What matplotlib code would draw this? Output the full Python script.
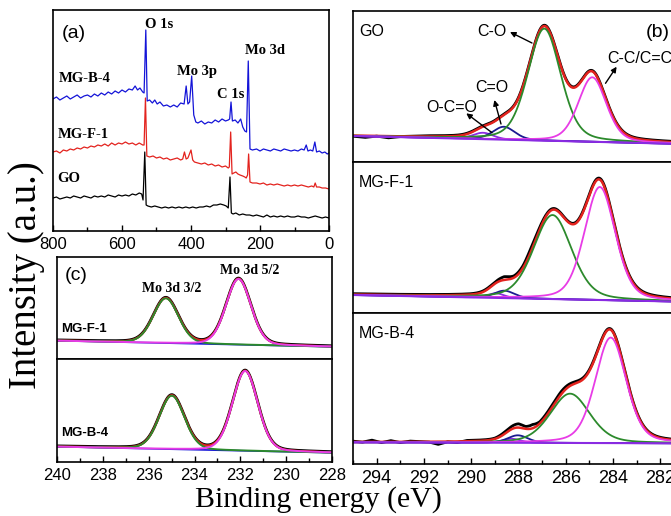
import numpy as np
import matplotlib
matplotlib.use("Agg")
import matplotlib.pyplot as plt
from matplotlib.ticker import MultipleLocator

plt.rcParams['font.family'] = ['Liberation Sans', 'DejaVu Sans']

# ---------------- (a) survey spectra ----------------
b4_ev = [800, 790, 780, 770, 760, 750, 740, 730, 720, 710, 700, 690, 680, 670, 660, 650,
         640, 630, 620, 610, 600, 590, 580, 570, 562, 555, 548, 540, 536, 531, 527,
         520, 512, 505, 498, 490, 480, 470, 460, 450, 440, 430, 420, 414, 409, 404, 398,
         392, 386, 380, 370, 360, 350, 340, 330, 320, 310, 300, 292, 288, 284, 280, 272,
         264, 256, 250, 244, 239, 234, 229, 222, 210, 200, 190, 180, 170, 160, 150, 140,
         130, 120, 110, 100, 90, 80, 72, 66, 61, 54, 47, 41, 36, 28, 20, 12, 5, 0]
b4_int = [132, 134, 131, 133, 135, 132, 134, 136, 133, 135, 136, 134, 137, 135, 138, 136,
          139, 137, 140, 138, 141, 139, 142, 141, 145, 141, 143, 139, 138, 201, 130,
          131, 128, 131, 127, 129, 125, 126, 124, 126, 124, 128, 127, 145, 127, 129, 155,
          116, 109, 108, 110, 107, 109, 108, 111, 109, 112, 110, 111, 112, 129, 110, 111,
          108, 112, 104, 100, 99, 170, 82, 81, 82, 80, 82, 81, 80, 82, 81, 80,
          82, 81, 80, 81, 80, 82, 81, 86, 80, 81, 80, 89, 79, 80, 78, 79, 77, 78]

f1_ev = [800, 790, 780, 770, 760, 750, 740, 730, 720, 710, 700, 690, 680, 670, 660, 650,
         640, 630, 620, 610, 600, 590, 580, 570, 560, 550, 540, 536, 532, 528, 520, 510,
         500, 490, 480, 470, 460, 450, 440, 430, 424, 419, 414, 409, 400, 395, 390, 380,
         370, 360, 350, 340, 330, 320, 310, 300, 292, 289, 285, 281, 276, 270, 264, 258,
         250, 244, 240, 236, 233, 229, 222, 210, 200, 190, 180, 170, 160, 150, 140, 130,
         120, 110, 100, 90, 80, 70, 60, 50, 44, 40, 36, 28, 20, 10, 0]
f1_int = [79, 80, 78, 81, 80, 82, 81, 83, 82, 84, 83, 85, 84, 86, 85, 87,
          85, 88, 86, 88, 87, 89, 87, 88, 86, 88, 86, 86, 133, 75, 74, 75,
          73, 74, 72, 73, 71, 72, 73, 71, 72, 79, 72, 73, 81, 71, 69, 68,
          67, 68, 66, 67, 65, 66, 64, 65, 63, 64, 99, 57, 58, 59, 57, 56,
          55, 54, 53, 56, 77, 49, 48, 48, 47, 48, 46, 47, 46, 47, 46, 45,
          46, 45, 46, 45, 46, 45, 44, 45, 44, 48, 44, 44, 43, 43, 42]

go_ev = [800, 790, 780, 770, 760, 750, 740, 730, 720, 710, 700, 690, 680, 670, 660, 650,
         640, 630, 620, 610, 600, 590, 580, 570, 560, 550, 543, 539, 534, 530, 525,
         515, 505, 495, 485, 475, 465, 455, 445, 435, 425, 415, 405, 395, 385, 375, 365,
         355, 345, 335, 325, 315, 305, 298, 292, 287, 283, 278, 270, 260, 250, 240, 230,
         220, 210, 200, 190, 180, 170, 160, 150, 140, 130, 120, 110, 100, 90, 80, 70,
         60, 50, 40, 30, 20, 10, 0]
go_int = [33, 34, 32, 33, 34, 33, 35, 34, 33, 35, 34, 33, 35, 34, 35, 34,
          36, 35, 34, 36, 35, 36, 35, 37, 36, 38, 37, 31, 79, 26, 25,
          24, 25, 24, 23, 24, 23, 24, 23, 24, 23, 24, 23, 24, 23, 24, 24,
          25, 24, 26, 26, 27, 26, 25, 23, 54, 18, 17, 18, 16, 17, 16, 16,
          15, 16, 15, 14, 16, 14, 15, 14, 15, 14, 15, 14, 14, 15, 14, 14,
          13, 14, 15, 14, 13, 14, 13]

# ---------------- (b) C 1s peak fits: centre, height, FWHM ----------------
c1s_labels = ["O-C=O", "C=O", "C-O", "C-C/C=C"]
go_c1s_center = [289.5, 288.62, 286.91, 284.88]
go_c1s_height = [6.4, 12.9, 112.0, 64.5]
go_c1s_fwhm = [1.0, 1.1, 1.64, 1.4]
go_c1s_base = [26, 18]
go_c1s_res_ev = [295, 294.5, 294, 293.5, 293, 292, 290, 288, 281]
go_c1s_res = [-1.5, -2.5, -1, -2.5, -1, 0, 0, 0, 0]

f1_c1s_center = [288.95, 288.6, 286.56, 284.56]
f1_c1s_height = [4.6, 7.4, 84.0, 113.0]
f1_c1s_fwhm = [0.8, 1.0, 1.9, 1.54]
f1_c1s_base = [18, 11.3]
f1_c1s_res_ev = [295, 290, 289, 288.6, 288.2, 287.8, 287.5, 287.2, 286.8, 286, 285, 281]
f1_c1s_res = [0, 0, 0.5, 2.5, 1, 1.5, 3, 2, 0.5, 0, 0.5, 0]

b4_c1s_center = [288.3, 288.03, 285.82, 284.1]
b4_c1s_height = [4.0, 7.5, 49.3, 105.5]
b4_c1s_fwhm = [0.9, 1.0, 1.97, 1.54]
b4_c1s_base = [21.7, 20.7]
b4_c1s_res_ev = [295, 294.6, 294.2, 293.8, 293.4, 293.0, 292.6, 292.2, 291.8, 291.4,
                 291.0, 290.6, 290.2, 289.6, 289, 288.4, 288.0, 287.7, 287.4, 287.1,
                 286.7, 286.2, 285.6, 285, 284, 282, 281]
b4_c1s_res = [0, -1, 1, -1.5, 0.5, -1.5, 0, -0.5, -1, -3.5,
              -1, -2, 0, 0, 0, 1.5, 3, 1.5, 3, 1,
              1.5, 2, 1, 0.5, 0, 0, 0]

# ---------------- (c) Mo 3d peak fits ----------------
mo_labels = ["Mo 3d 3/2", "Mo 3d 5/2"]
f1_mo_center = [235.25, 232.08]
f1_mo_height = [44.8, 65.7]
f1_mo_fwhm = [1.3, 1.28]
f1_mo_base = [18.3, 12.3]
b4_mo_center = [234.99, 231.79]
b4_mo_height = [53.5, 79.8]
b4_mo_fwhm = [1.3, 1.3]
b4_mo_base = [15.3, 9.3]

BLACK = '#000000'
RED = '#e3231e'
GREEN = '#2c8a2c'
MAGENTA = '#e83ce6'
NAVY = '#1a1a90'
VIOLET = '#8a2be2'
BLUE = '#1414d8'


def pvoigt(x, c, h, w, eta=0.3):
    g = np.exp(-4 * np.log(2) * ((x - c) / w) ** 2)
    l = 1 / (1 + 4 * ((x - c) / w) ** 2)
    return h * ((1 - eta) * g + eta * l)


def baseline(x, base, x0, x1):
    return base[0] + (base[1] - base[0]) * (x0 - x) / (x0 - x1)


def style_axis(ax, size):
    for s in ax.spines.values():
        s.set_linewidth(1.2)
    ax.tick_params(axis='x', which='both', direction='in', labelsize=size, pad=4)
    ax.tick_params(axis='x', which='major', length=4, width=1)
    ax.tick_params(axis='x', which='minor', length=3, width=1)
    ax.tick_params(axis='y', left=False, labelleft=False)


fig = plt.figure(figsize=(6.71, 5.16), dpi=100)
W, H = 671.0, 516.0


def pix_axes(x0, y0, x1, y1):
    return fig.add_axes([x0 / W, 1 - y1 / H, (x1 - x0) / W, (y1 - y0) / H])


serif_bold = dict(family='Liberation Serif', weight='bold')

# ---------------- panel (a) ----------------
ax_a = pix_axes(53, 10, 329, 231)
ax_a.plot(go_ev, go_int, color=BLACK, lw=0.9)
ax_a.plot(f1_ev, f1_int, color=RED, lw=0.9)
ax_a.plot(b4_ev, b4_int, color=BLUE, lw=0.9)
ax_a.set_xlim(800, 0)
ax_a.set_ylim(0, 221)
ax_a.xaxis.set_major_locator(MultipleLocator(200))
ax_a.xaxis.set_minor_locator(MultipleLocator(100))
style_axis(ax_a, 12)
ax_a.text(775, 198, '(a)', fontsize=14, ha='left', va='center')
ax_a.text(533, 207, 'O 1s', fontsize=10.5, ha='left', va='center', **serif_bold)
ax_a.text(440, 159, 'Mo 3p', fontsize=10.5, ha='left', va='center', **serif_bold)
ax_a.text(325, 137, 'C 1s', fontsize=10.5, ha='left', va='center', **serif_bold)
ax_a.text(244, 180, 'Mo 3d', fontsize=10.5, ha='left', va='center', **serif_bold)
ax_a.text(783, 152, 'MG-B-4', fontsize=10.5, ha='left', va='center', **serif_bold)
ax_a.text(785, 97, 'MG-F-1', fontsize=10.5, ha='left', va='center', **serif_bold)
ax_a.text(788, 52, 'GO', fontsize=10.5, ha='left', va='center', **serif_bold)

# ---------------- panel (c) ----------------
mo_x = np.linspace(240, 228, 500)


def draw_mo(ax, centers, heights, fwhms, base, label, label_y):
    bl = baseline(mo_x, base, 240, 228)
    comps = [pvoigt(mo_x, c, h, w, eta=0.15) for c, h, w in zip(centers, heights, fwhms)]
    fit = bl + comps[0] + comps[1]
    ax.plot(mo_x, fit + 0.6, color=BLACK, lw=2.0)
    ax.plot(mo_x, fit, color=RED, lw=1.6)
    ax.plot(mo_x, bl, color=BLUE, lw=1.2)
    ax.plot(mo_x, bl + comps[0], color=GREEN, lw=1.4)
    ax.plot(mo_x, bl + comps[1], color=MAGENTA, lw=1.4)
    ax.set_xlim(240, 228)
    ax.text(239.8, label_y, label, fontsize=9.5, fontweight='bold', ha='left', va='center')


ax_c1 = pix_axes(57, 257, 332, 359)
ax_c1.set_ylim(0, 102)
draw_mo(ax_c1, f1_mo_center, f1_mo_height, f1_mo_fwhm, f1_mo_base, 'MG-F-1', 29.5)
style_axis(ax_c1, 12)
ax_c1.tick_params(axis='x', which='both', bottom=False, labelbottom=False)
ax_c1.text(239.65, 84, '(c)', fontsize=14, ha='left', va='center')
ax_c1.text(234.98, 71, mo_labels[0], fontsize=10, ha='center', va='center', **serif_bold)
ax_c1.text(231.58, 88, mo_labels[1], fontsize=10, ha='center', va='center', **serif_bold)

ax_c2 = pix_axes(57, 359, 332, 462)
ax_c2.set_ylim(0, 103)
draw_mo(ax_c2, b4_mo_center, b4_mo_height, b4_mo_fwhm, b4_mo_base, 'MG-B-4', 28.5)
ax_c2.xaxis.set_major_locator(MultipleLocator(2))
ax_c2.xaxis.set_minor_locator(MultipleLocator(1))
style_axis(ax_c2, 12)

# ---------------- panel (b) ----------------
c1s_x = np.linspace(295, 281, 700)
c1s_colors = [VIOLET, NAVY, GREEN, MAGENTA]


def draw_c1s(ax, centers, heights, fwhms, base, res_ev, res, label):
    bl = baseline(c1s_x, base, 295, 281)
    comps = [pvoigt(c1s_x, c, h, w) for c, h, w in zip(centers, heights, fwhms)]
    fit = bl + np.sum(comps, axis=0)
    data = fit + np.interp(c1s_x, res_ev[::-1], res[::-1])
    ax.plot(c1s_x, data + 0.8, color=BLACK, lw=2.0)
    ax.plot(c1s_x, fit, color=RED, lw=1.8)
    for comp, col in zip(comps, c1s_colors):
        ax.plot(c1s_x, bl + comp, color=col, lw=1.3)
    ax.plot(c1s_x, bl, color=VIOLET, lw=1.5)
    ax.set_xlim(295, 281)
    ax.set_ylim(0, 151)
    ax.text(294.75, 130, label, fontsize=11.5, ha='left', va='center')


ax_b1 = pix_axes(353, 11, 684, 162)
draw_c1s(ax_b1, go_c1s_center, go_c1s_height, go_c1s_fwhm, go_c1s_base,
         go_c1s_res_ev, go_c1s_res, 'GO')
style_axis(ax_b1, 13)
ax_b1.tick_params(axis='x', which='both', bottom=False, labelbottom=False)
ax_b1.text(282.63, 129.5, '(b)', fontsize=14, ha='left', va='center')
arrow = dict(arrowstyle='-|>', color='k', lw=1.0, mutation_scale=8, shrinkA=0, shrinkB=0)
ax_b1.text(289.12, 130, c1s_labels[2], fontsize=11.5, ha='center', va='center')
ax_b1.annotate('', xy=(288.36, 130), xytext=(287.43, 119), arrowprops=arrow)
ax_b1.text(284.23, 103.5, c1s_labels[3], fontsize=11.5, ha='left', va='center')
ax_b1.annotate('', xy=(283.85, 95.3), xytext=(284.32, 78.7), arrowprops=arrow)
ax_b1.text(289.12, 75, c1s_labels[1], fontsize=11.5, ha='center', va='center')
ax_b1.annotate('', xy=(289.02, 62), xytext=(288.74, 38), arrowprops=arrow)
ax_b1.text(290.84, 55, c1s_labels[0], fontsize=11.5, ha='center', va='center')
ax_b1.annotate('', xy=(290.21, 48.7), xytext=(289.12, 29.3), arrowprops=arrow)

ax_b2 = pix_axes(353, 162, 684, 313)
draw_c1s(ax_b2, f1_c1s_center, f1_c1s_height, f1_c1s_fwhm, f1_c1s_base,
         f1_c1s_res_ev, f1_c1s_res, 'MG-F-1')
style_axis(ax_b2, 13)
ax_b2.tick_params(axis='x', which='both', bottom=False, labelbottom=False)

ax_b3 = pix_axes(353, 313, 684, 464)
draw_c1s(ax_b3, b4_c1s_center, b4_c1s_height, b4_c1s_fwhm, b4_c1s_base,
         b4_c1s_res_ev, b4_c1s_res, 'MG-B-4')
ax_b3.xaxis.set_major_locator(MultipleLocator(2))
ax_b3.xaxis.set_minor_locator(MultipleLocator(1))
style_axis(ax_b3, 13)

# shared axis titles
fig.text(0.040, 0.467, 'Intensity (a.u.)', rotation=90, fontsize=28,
         family='Liberation Serif', ha='center', va='center')
fig.text(0.4747, 0.018, 'Binding energy (eV)', fontsize=21.5,
         family='Liberation Serif', ha='center', va='baseline')

fig.savefig('out.png', dpi=100)
